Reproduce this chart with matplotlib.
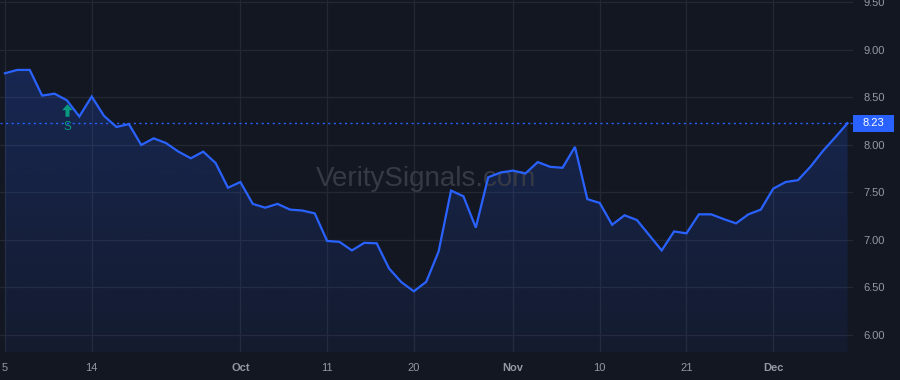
import matplotlib
matplotlib.use("Agg")
import matplotlib.pyplot as plt
import matplotlib.transforms as mtransforms
from matplotlib.patches import Rectangle
import numpy as np

# ---- data ----
values = [8.755, 8.79, 8.79, 8.52, 8.54, 8.47, 8.30, 8.51, 8.305, 8.19,
          8.22, 8.00, 8.07, 8.02, 7.93, 7.86, 7.93, 7.81, 7.55, 7.61,
          7.38, 7.34, 7.38, 7.32, 7.31, 7.28, 6.99, 6.98, 6.89, 6.97,
          6.965, 6.70, 6.555, 6.46, 6.56, 6.88, 7.52, 7.46, 7.13, 7.66,
          7.71, 7.73, 7.70, 7.82, 7.77, 7.76, 7.98, 7.43, 7.39, 7.16,
          7.26, 7.21, 7.05, 6.89, 7.09, 7.07, 7.27, 7.27, 7.22, 7.175,
          7.27, 7.32, 7.54, 7.61, 7.63, 7.77, 7.935, 8.08, 8.23]
xtick_idx = [0, 7, 19, 26, 33, 41, 48, 55, 62]
xtick_labels = ["5", "14", "Oct", "11", "20", "Nov", "10", "21", "Dec"]
month_labels = {"Oct", "Nov", "Dec"}
ytick_vals = [6.0, 6.5, 7.0, 7.5, 8.0, 8.5, 9.0, 9.5]
signal_idx = 5
signal_label = "S"
last_value = values[-1]
watermark = "VeritySignals.com"

# ---- style ----
BG = "#131722"
GRID = "#242833"
LINE = "#2962ff"
TXT = "#9598a1"
GREEN = "#089981"
FONT = "Liberation Sans"

fig = plt.figure(figsize=(9, 3.8), dpi=100, facecolor=BG)
ax = fig.add_axes([0.0, 28 / 380, 853 / 900, 352 / 380])
ax.set_facecolor(BG)

x = np.arange(len(values))
y = np.array(values)
ax.set_xlim(-0.40, 68.44)
ymin, ymax = 5.821, 9.526
ax.set_ylim(ymin, ymax)

# grid
for v in ytick_vals:
    ax.axhline(v, color=GRID, lw=0.9, zorder=0)
for i in xtick_idx:
    ax.axvline(i, color=GRID, lw=0.9, zorder=0)

# gradient fill
poly = ax.fill_between(x, y, ymin, color="none", lw=0)
grad = np.linspace(0, 1, 256).reshape(-1, 1)
rgba = np.zeros((256, 1, 4))
rgba[..., 0] = 41 / 255
rgba[..., 1] = 98 / 255
rgba[..., 2] = 1.0
rgba[..., 3] = (0.06 + 0.16 * grad)[:, :1]
im = ax.imshow(rgba, extent=[x[0], x[-1], ymin, y.max()], origin="lower",
               aspect="auto", zorder=1, interpolation="bilinear")
im.set_clip_path(poly.get_paths()[0], transform=ax.transData)

ax.plot(x, y, color=LINE, lw=1.6, zorder=3, solid_joinstyle="miter")

# last price dotted line
ax.axhline(last_value, color=LINE, lw=1.0, ls=(0, (1.5, 2.5)), zorder=2)

# watermark
ax.text(0.5, (173 - 0) / 352, watermark, transform=ax.transAxes,
        ha="center", va="center", fontsize=20, color="#363a45",
        family=FONT, zorder=2)

# signal marker
arrow = [(0, 1), (0.85, 0.05), (0.32, 0.05), (0.32, -1), (-0.32, -1),
         (-0.32, 0.05), (-0.85, 0.05), (0, 1)]
off = mtransforms.offset_copy(ax.transData, fig=fig, x=0, y=-7.3, units="points")
ax.plot([signal_idx], [values[signal_idx]], marker=arrow, markersize=9,
        color=GREEN, mec=GREEN, mew=0, transform=off, zorder=4, ls="none")
off2 = mtransforms.offset_copy(ax.transData, fig=fig, x=0, y=-19, units="points")
ax.text(signal_idx, values[signal_idx], signal_label, transform=off2,
        ha="center", va="center", fontsize=8.5, color=GREEN, family=FONT, zorder=4)

# axes
for s in ax.spines.values():
    s.set_visible(False)
ax.yaxis.tick_right()
ax.set_yticks(ytick_vals)
ax.set_yticklabels([f"{v:.2f}" for v in ytick_vals])
ax.tick_params(axis="y", length=0, pad=7.5, labelsize=8, labelcolor=TXT)
ax.set_xticks(xtick_idx)
ax.set_xticklabels(xtick_labels)
ax.tick_params(axis="x", length=0, pad=8, labelsize=8, labelcolor=TXT)
for lab in ax.get_xticklabels() + ax.get_yticklabels():
    lab.set_family(FONT)
    if lab.get_text() in month_labels:
        lab.set_fontweight("bold")

# last price label box
bt = mtransforms.blended_transform_factory(ax.transAxes, ax.transData)
box_h = 17 / 95
ax.add_patch(Rectangle((1.0, last_value - box_h / 2), 41 / 853, box_h,
                       transform=bt, color=LINE, clip_on=False, zorder=5, lw=0))
ax.text(1.0 + 20.5 / 853, last_value, f"{last_value:.2f}", transform=bt,
        ha="center", va="center", fontsize=8, color="white", family=FONT,
        zorder=6, clip_on=False)

fig.savefig("out.png", dpi=100, facecolor=BG)
